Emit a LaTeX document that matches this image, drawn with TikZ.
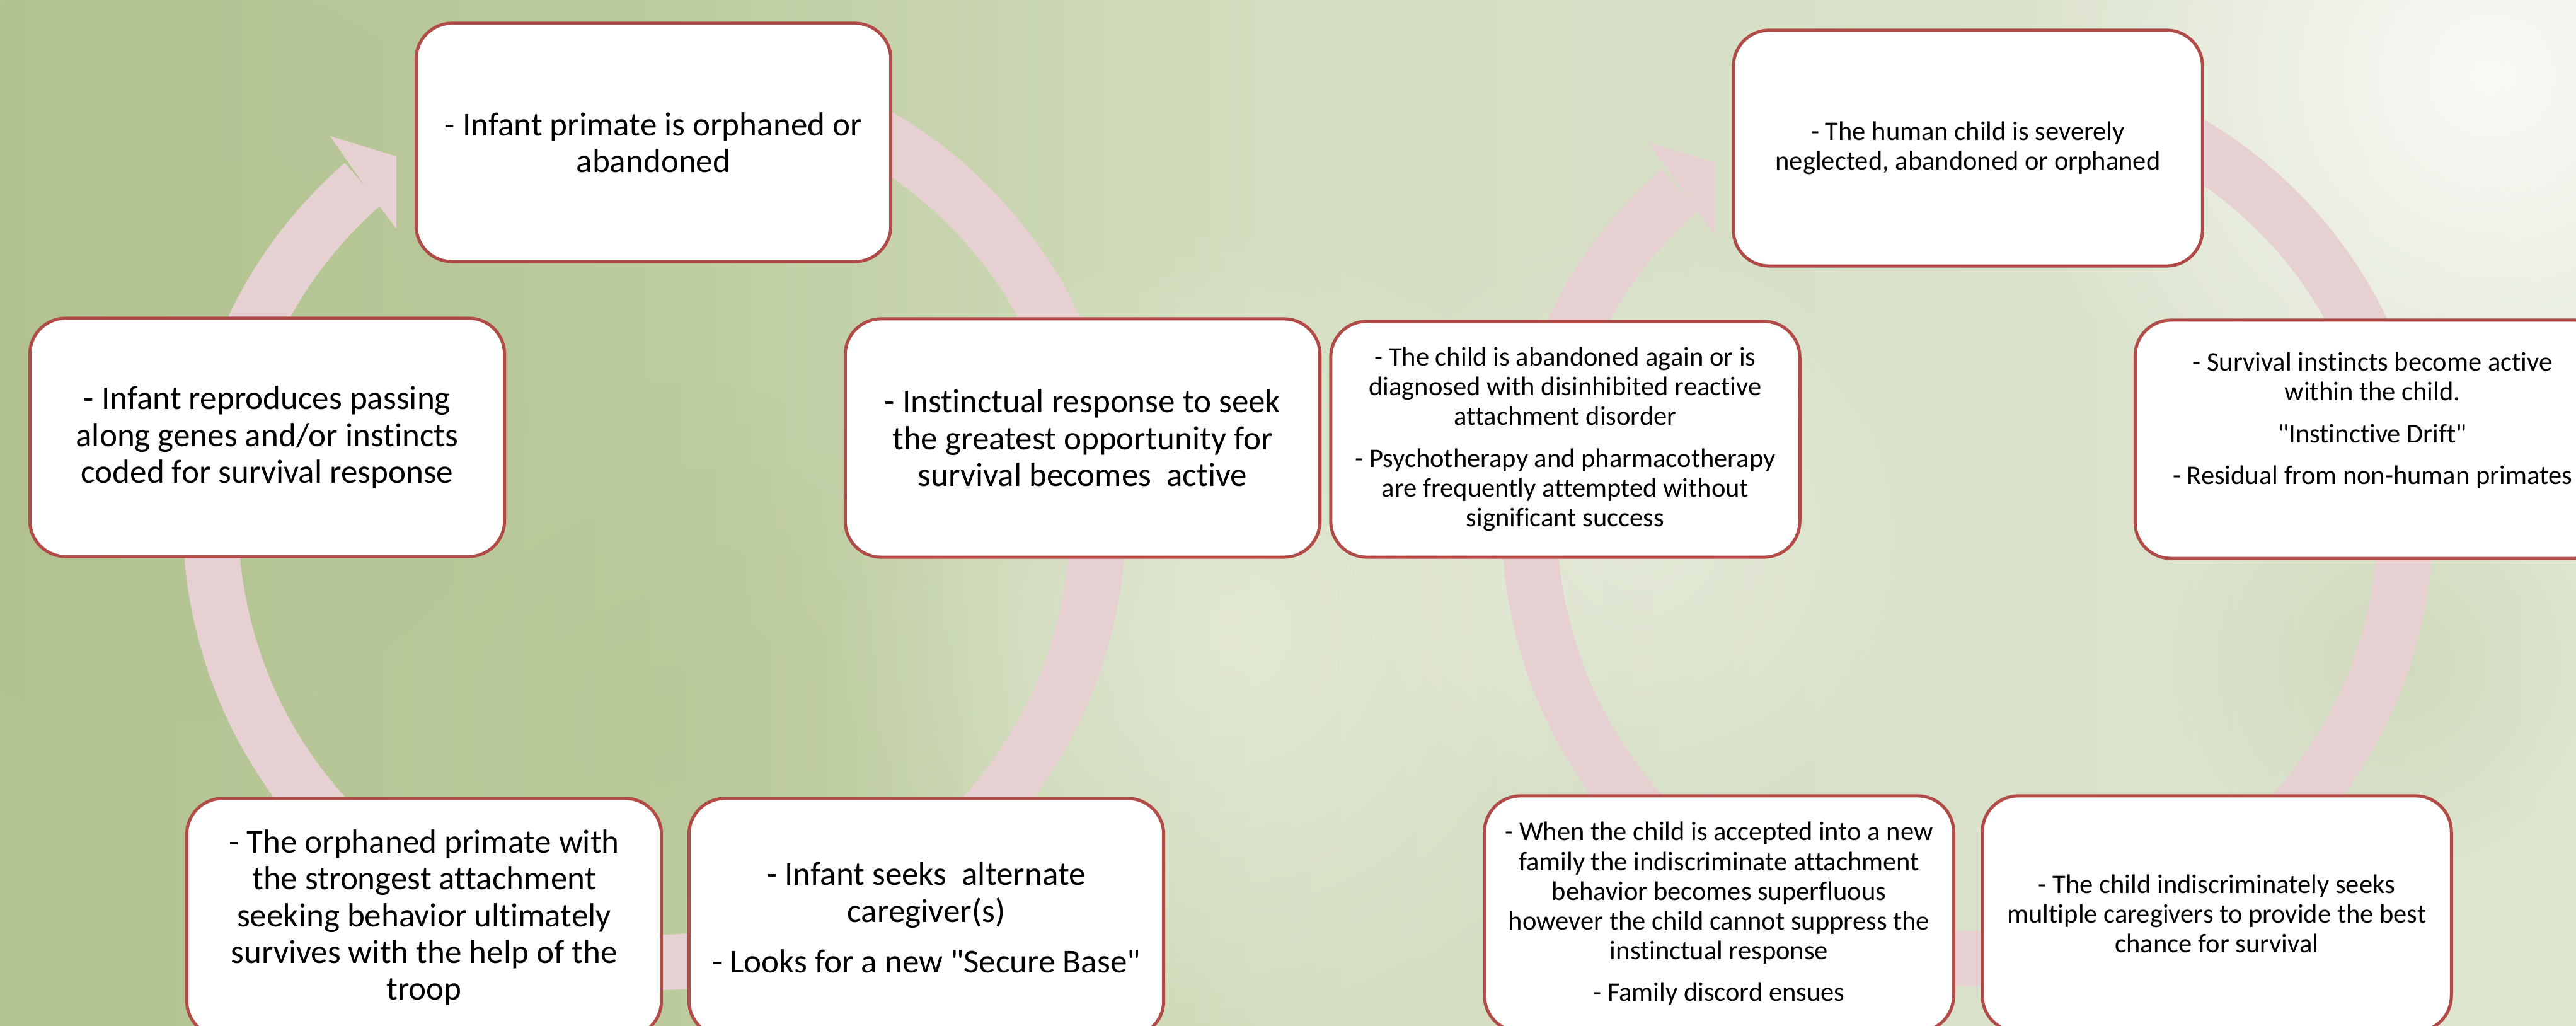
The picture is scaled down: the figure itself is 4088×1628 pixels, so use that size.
\documentclass[tikz,border=0pt]{standalone}
\usepackage{fontspec}
\setmainfont{Carlito}[Ligatures=CommonOff]
\usetikzlibrary{fadings}
\tikzfading[name=myglow, inner color=transparent!0, outer color=transparent!100]
\newcommand\sq{\XeTeXglyph\XeTeXcharglyph"22\relax}
\definecolor{ringc}{HTML}{E6D0D2}
\definecolor{boxc}{HTML}{B04B48}
\definecolor{bgA}{HTML}{B2C290}
\definecolor{bgB}{HTML}{BBCB9D}
\definecolor{bgC}{HTML}{D3DDBF}
\definecolor{bgD}{HTML}{D9E1CA}
\definecolor{bgE}{HTML}{DFE6D2}
\definecolor{bgDark}{HTML}{B4C48E}
\definecolor{bgOlive}{HTML}{C3CFA6}
\tikzset{
  cbox/.style={draw=boxc, line width=0.05cm, fill=white, rounded corners=0.57cm,
    minimum width=7.53cm, minimum height=3.78cm, inner sep=0pt, align=center, text=black},
  rbox/.style={cbox, minimum width=7.44cm, minimum height=3.74cm},
  bigtxt/.style={font=\fontsize{15.1}{16.6}\selectfont},
  smalltxt/.style={font=\fontsize{12.1}{13.4}\selectfont},
  ringline/.style={draw=ringc, line width=0.88cm, line cap=butt},
  ringhead/.style={fill=ringc}
}
\begin{document}
\begin{tikzpicture}[x=0.01cm, y=0.01cm]
\useasboundingbox (0,0) rectangle (4088,-1628);
\begin{scope}
\clip (0,0) rectangle (4088,-1628);
% background
\shade[left color=bgA, right color=bgB] (0,0) rectangle (1001,-1628);
\shade[left color=bgB, right color=bgC] (1000,0) rectangle (2001,-1628);
\shade[left color=bgC, right color=bgD] (2000,0) rectangle (3001,-1628);
\shade[left color=bgD, right color=bgE] (3000,0) rectangle (4088,-1628);
\fill[bgDark, opacity=0.45, path fading=myglow] (1050,-1150) circle (550);
\fill[bgDark, opacity=0.3, path fading=myglow] (250,-550) circle (600);
\fill[white, opacity=0.35, path fading=myglow] (1950,-1000) circle (650);
\fill[white, opacity=0.8, path fading=myglow] (3950,-120) circle (750);
\fill[white, opacity=0.3, path fading=myglow] (2600,-850) circle (500);
\fill[bgOlive, opacity=0.5, path fading=myglow] (3800,-1050) circle (350);

% left cycle ring
\coordinate (cL) at (1038,-823);
\draw[ringline] (cL) ++(100:704) arc[start angle=100, end angle=-229, radius=704];
\fill[ringhead] (524,-216) -- (629,-248) -- (629,-363) -- (602,-327) -- (550,-254) -- cycle;

% right cycle ring
\coordinate (cR) at (3122,-826);
\draw[ringline] (cR) ++(100:695) arc[start angle=100, end angle=-229, radius=695];
\fill[ringhead] (2616,-226) -- (2721,-258) -- (2721,-372) -- (2693,-335) -- (2642,-263) -- cycle;

% left cycle boxes
\node[cbox, bigtxt] (a) at (1037,-226) {- Infant primate is orphaned or\\abandoned};
\node[cbox, bigtxt] (b) at (424,-694) {- Infant reproduces passing\\along genes and/or instincts\\coded for survival response};
\node[cbox, bigtxt] (c) at (1718,-695) {- Instinctual response to seek\\the greatest opportunity for\\survival becomes~ active};
\node[cbox, bigtxt] (d) at (673,-1456) {- The orphaned primate with\\the strongest attachment\\seeking behavior ultimately\\survives with the help of the\\troop};
\node[cbox, bigtxt] (e) at (1470,-1456) {- Infant seeks~ alternate\\caregiver(s)\\[6.3pt]- Looks for a new \sq Secure Base\sq};

% right cycle boxes
\node[rbox, smalltxt] (f) at (3123,-235) {- The human child is severely\\neglected, abandoned or orphaned};
\node[rbox, smalltxt] (g) at (2484,-697) {- The child is abandoned again or is\\diagnosed with disinhibited reactive\\attachment disorder\\[5.5pt]- Psychotherapy and pharmacotherapy\\are frequently attempted without\\significant success};
\node[cbox, smalltxt] (h) at (3765,-697) {- Survival instincts become active\\within the child.\\[5.5pt]\sq Instinctive Drift\sq\\[5.5pt]- Residual from non-human primates\\[5.5pt]\mbox{}};
\node[rbox, smalltxt] (i) at (2728,-1450) {- When the child is accepted into a new\\family the indiscriminate attachment\\behavior becomes superfluous\\however the child cannot suppress the\\instinctual response\\[5.5pt]- Family discord ensues};
\node[rbox, smalltxt] (j) at (3518,-1450) {- The child indiscriminately seeks\\multiple caregivers to provide the best\\chance for survival};
\end{scope}
\end{tikzpicture}
\end{document}
